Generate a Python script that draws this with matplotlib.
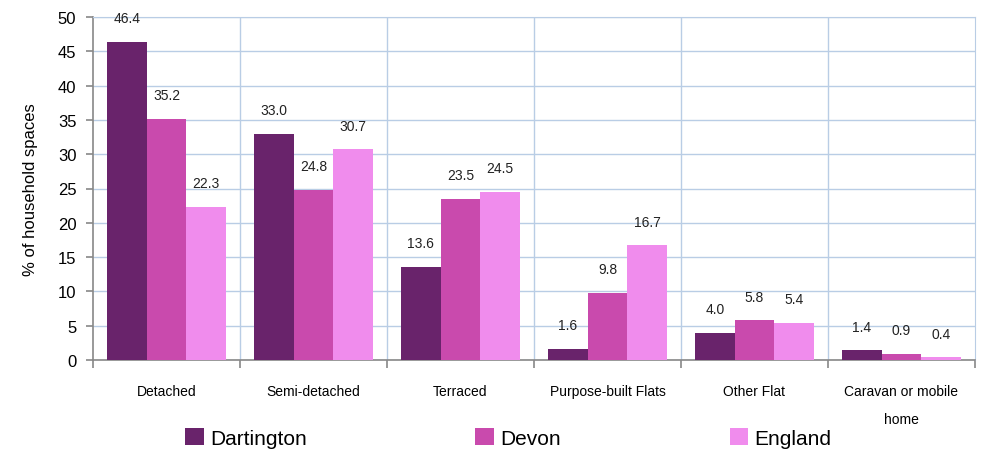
import matplotlib
matplotlib.use('Agg')
import matplotlib.pyplot as plt
import numpy as np

categories = ['Detached', 'Semi-detached', 'Terraced', 'Purpose-built Flats',
              'Other Flat', 'Caravan or mobile\nhome']
dartington = [46.4, 33.0, 13.6, 1.6, 4.0, 1.4]
devon = [35.2, 24.8, 23.5, 9.8, 5.8, 0.9]
england = [22.3, 30.7, 24.5, 16.7, 5.4, 0.4]
series_names = ['Dartington', 'Devon', 'England']
colors = ['#69236b', '#c94aad', '#f08ced']

plt.rcParams['font.family'] = ['Liberation Sans', 'DejaVu Sans']

fig = plt.figure(figsize=(9.87, 4.52), dpi=100, facecolor='white')
ax = fig.add_axes([93 / 987, 1 - 361 / 452, (975 - 93) / 987, (361 - 18) / 452])

x = np.arange(len(categories))
w = 0.27
grid_c = '#b9cde5'

for i, (vals, name, c) in enumerate(zip([dartington, devon, england], series_names, colors)):
    pos = x + (i - 1) * w
    ax.bar(pos, vals, width=w, color=c, label=name, zorder=3)
    for p, v in zip(pos, vals):
        ax.annotate(f'{v:.1f}', (p, v), xytext=(0, 17), textcoords='offset points',
                    ha='center', va='center', fontsize=10, color='#222222')

ax.set_xlim(-0.5, len(categories) - 0.5)
ax.set_ylim(0, 50)
ax.set_yticks(range(0, 51, 5))
ax.tick_params(axis='y', labelsize=12, length=5, color='#888888', width=1.2, pad=7)

# category boundaries as major ticks + vertical grid
ax.set_xticks(np.arange(-0.5, len(categories), 1))
ax.set_xticklabels([])
ax.set_xticks(x, minor=True)
ax.set_xticklabels(categories, minor=True, fontsize=10, linespacing=2.3, va='top')
ax.tick_params(axis='x', which='minor', length=0, pad=17)
ax.tick_params(axis='x', which='major', length=6, color='#888888', width=1.2)

ax.yaxis.grid(True, color=grid_c, lw=1.0, zorder=0)
for b in np.arange(0.5, len(categories) - 0.5, 1):
    ax.axvline(b, color=grid_c, lw=1.0, zorder=0)

for s in ['top', 'right']:
    ax.spines[s].set_color(grid_c)
ax.spines['left'].set_color('#888888')
ax.spines['bottom'].set_color('#888888')
ax.spines['left'].set_linewidth(1.2)
ax.spines['bottom'].set_linewidth(1.2)

ax.set_ylabel('% of household spaces', fontsize=12, labelpad=14)

fig.legend(loc='center', bbox_to_anchor=(0.515, 1 - 439 / 452), ncol=3, frameon=False,
           fontsize=15, handlelength=0.9, handleheight=0.9, handletextpad=0.3,
           columnspacing=8.1, borderaxespad=0, borderpad=0)

fig.savefig('out.png', dpi=100, facecolor='white')
